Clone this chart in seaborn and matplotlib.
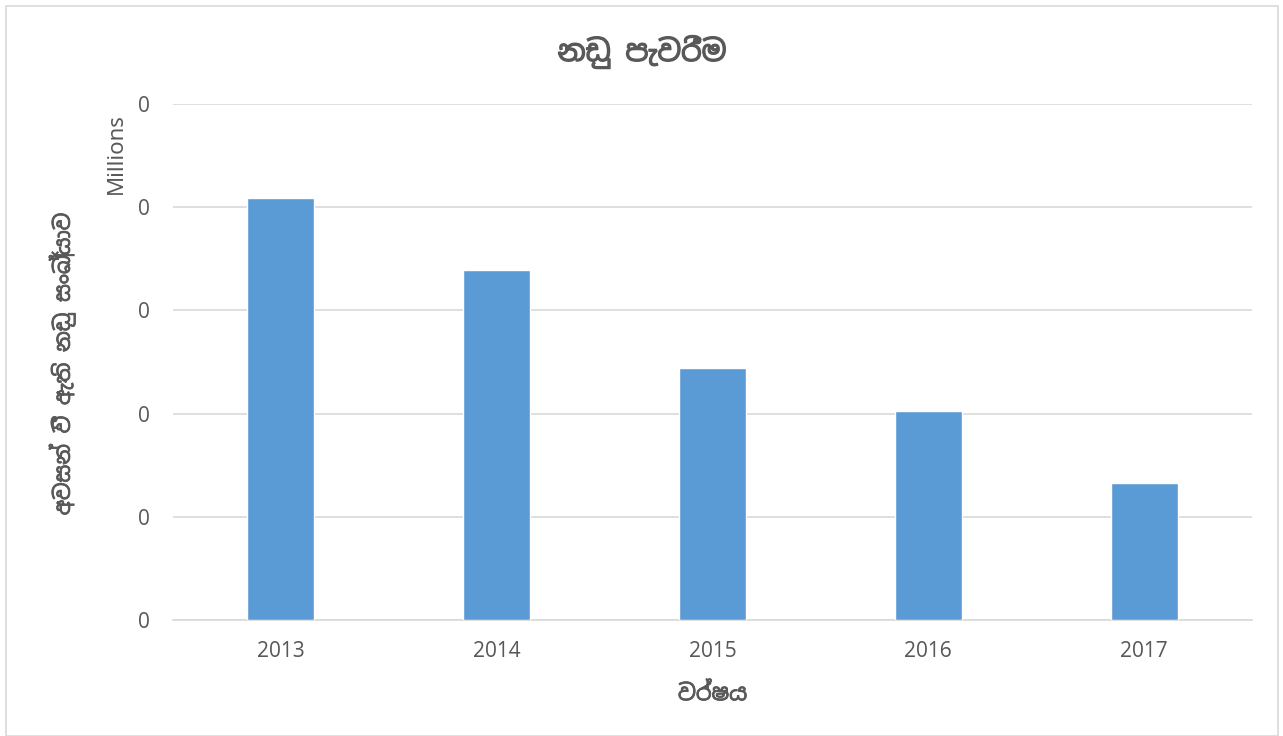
import seaborn as sns
import matplotlib.pyplot as plt
import matplotlib.patheffects as pe
import numpy as np
import pandas as pd
from matplotlib.ticker import FuncFormatter, MultipleLocator

years = ['2013', '2014', '2015', '2016', '2017']
cases = [4090, 3390, 2440, 2030, 1330]

title = 'නඩු පැවරීම'
xlabel = 'වර්ෂය'
ylabel = 'අවසන් වී ඇති නඩු සංඛ්‍යාව'

sns.set_style('white')
plt.rcParams['font.family'] = ['Noto Sans Sinhala', 'Noto Serif Sinhala', 'Iskoola Pota',
                               'Liberation Sans', 'DejaVu Sans']

df = pd.DataFrame({'year': years, 'cases': cases})

fig = plt.figure(figsize=(12.83, 7.36), dpi=100)
ax = fig.add_axes([173 / 1283, 1 - 620 / 736, (1252 - 173) / 1283, (620 - 104) / 736])

sns.barplot(data=df, x='year', y='cases', color='#5b9bd5', width=0.31,
            saturation=1, ax=ax, zorder=3)

ax.set_ylim(0, 5000)
ax.yaxis.set_major_locator(MultipleLocator(1000))
ax.yaxis.set_major_formatter(FuncFormatter(lambda v, p: f'{v / 1e6:.0f}'))
ax.grid(axis='y', color='#d9d9d9', linewidth=1.2, zorder=0)
for s in ['top', 'right', 'left']:
    ax.spines[s].set_visible(False)
ax.spines['bottom'].set_color('#d9d9d9')
ax.spines['bottom'].set_linewidth(1.2)
ax.tick_params(axis='both', length=0, labelsize=15, colors='#595959')
ax.tick_params(axis='y', pad=17)
ax.tick_params(axis='x', pad=15)

# the Sinhala font has no bold face, so thicken the strokes a little
bold = [pe.withStroke(linewidth=0.6, foreground='#595959')]

ax.set_xlabel(xlabel, fontsize=16, fontweight='bold', color='#595959', labelpad=16,
              path_effects=bold)
ax.set_ylabel('')
fig.text(62 / 1283, 1 - 364 / 736, ylabel, rotation=90, ha='center', va='center',
         fontsize=15.5, fontweight='bold', color='#595959', path_effects=bold)
fig.text(116 / 1283, 1 - 154 / 736, 'Millions', rotation=90, ha='center', va='center',
         fontsize=16, color='#595959')
fig.text(642 / 1283, 1 - 52 / 736, title, ha='center', va='center',
         fontsize=21, fontweight='bold', color='#595959',
         path_effects=[pe.withStroke(linewidth=0.9, foreground='#595959')])

border = plt.Rectangle((6 / 1283, 0), 1272 / 1283, 1 - 6 / 736, transform=fig.transFigure,
                       fill=False, edgecolor='#d9d9d9', linewidth=1.2)
fig.patches.append(border)

fig.savefig('out.png', dpi=100)
